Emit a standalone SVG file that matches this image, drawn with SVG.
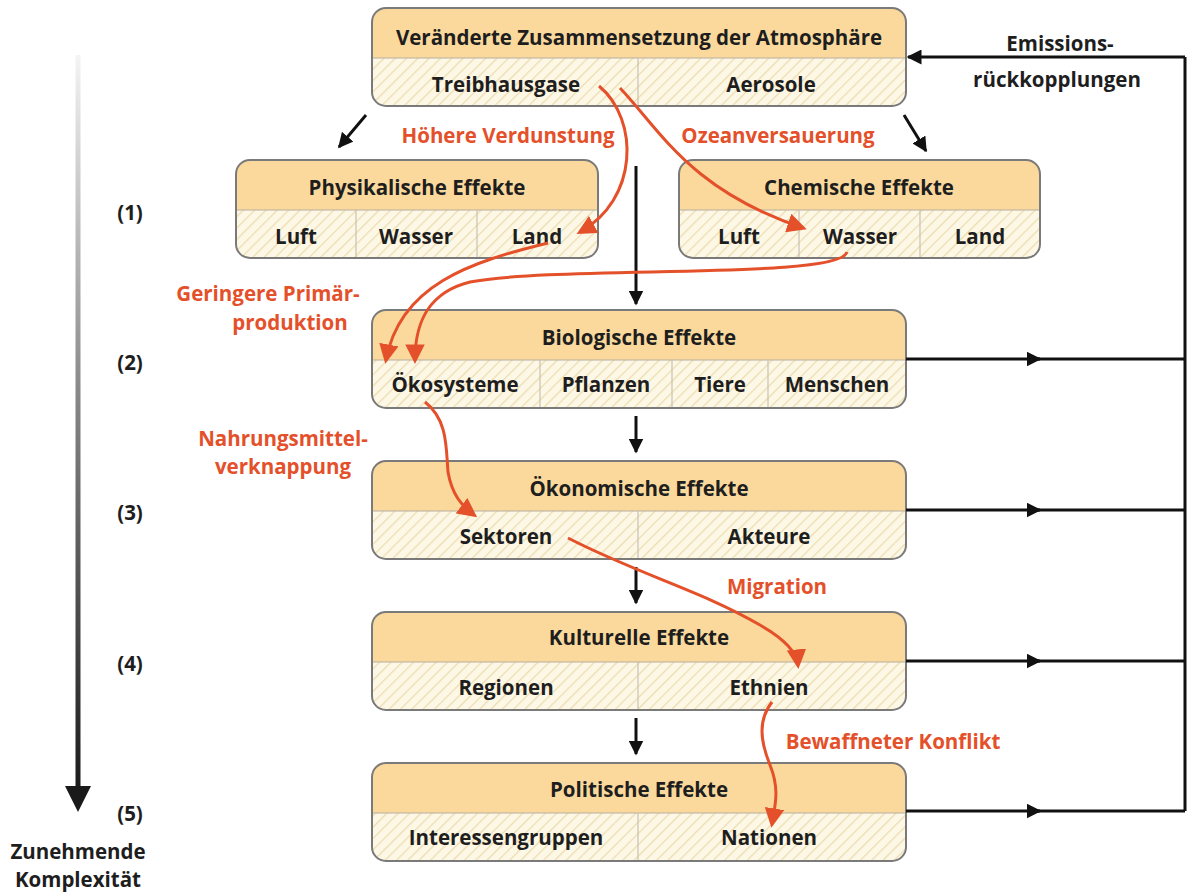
<svg xmlns="http://www.w3.org/2000/svg" width="1189" height="892" viewBox="0 0 1189 892">
<defs>
<pattern id="hatch" patternUnits="userSpaceOnUse" width="8" height="8" patternTransform="rotate(45)">
<rect width="8" height="8" fill="#fdf7e6"/>
<line x1="0" y1="0" x2="0" y2="8" stroke="#ecdcb0" stroke-width="2.5"/>
</pattern>
<linearGradient id="fade" x1="0" y1="55" x2="0" y2="790" gradientUnits="userSpaceOnUse">
<stop offset="0" stop-color="#f4f4f4"/>
<stop offset="0.45" stop-color="#8a8a8a"/>
<stop offset="1" stop-color="#1a1a1a"/>
</linearGradient>
<marker id="ab" viewBox="0 0 10 10" refX="9" refY="5" markerWidth="5" markerHeight="5" markerUnits="strokeWidth" orient="auto">
<path d="M0,0 L10,5 L0,10 Z" fill="#111"/>
</marker>
<marker id="ar" viewBox="0 0 10 10" refX="8" refY="5" markerWidth="6.5" markerHeight="6.5" markerUnits="strokeWidth" orient="auto">
<path d="M0,0 L10,5 L0,10 Z" fill="#e4502a"/>
</marker>
</defs>
<style>
.body{fill:url(#hatch);}
.head{fill:#fbd99c;}
.frame{fill:none;stroke:#7a7a7a;stroke-width:2;}
.sep{stroke:#b8b0a0;stroke-width:1.2;}
.col{stroke:#c9c2b2;stroke-width:1.2;}
.t{font-family:"Open Sans",Lato,"Liberation Sans",sans-serif;font-weight:700;font-size:20.5px;fill:#1e1e1e;text-anchor:middle;}
.r{font-family:"Open Sans",Lato,"Liberation Sans",sans-serif;font-weight:700;font-size:20.5px;fill:#e4502a;text-anchor:middle;}
.blk{stroke:#111;stroke-width:3;fill:none;}
.red{stroke:#e4502a;stroke-width:3;fill:none;}
</style>
<rect width="1189" height="892" fill="#fff"/>

<g id="complexity">
<line x1="78" y1="55" x2="78" y2="790" stroke="url(#fade)" stroke-width="5"/>
<polygon points="65,786 91,786 78,812" fill="#1a1a1a"/>
<text class="t" x="130" y="220">(1)</text>
<text class="t" x="130" y="370">(2)</text>
<text class="t" x="130" y="520">(3)</text>
<text class="t" x="130" y="671">(4)</text>
<text class="t" x="130" y="821">(5)</text>
<text class="t" x="78" y="859">Zunehmende</text>
<text class="t" x="78" y="887">Komplexität</text>
</g>

<g id="atmosphaere">
<rect class="body" x="372" y="8" width="534" height="98" rx="14"/>
<path class="head" d="M372,58 V22 Q372,8 386,8 H892 Q906,8 906,22 V58 Z"/>
<line class="sep" x1="372" y1="58" x2="906" y2="58"/>
<line class="col" x1="638" y1="58" x2="638" y2="106"/>
<rect class="frame" x="372" y="8" width="534" height="98" rx="14"/>
<text class="t" x="639" y="45">Veränderte Zusammensetzung der Atmosphäre</text>
<text class="t" x="506" y="92">Treibhausgase</text>
<text class="t" x="771" y="92">Aerosole</text>
</g>

<g id="physikalisch">
<rect class="body" x="236" y="160" width="362" height="98" rx="14"/>
<path class="head" d="M236,210 V174 Q236,160 250,160 H584 Q598,160 598,174 V210 Z"/>
<line class="sep" x1="236" y1="210" x2="598" y2="210"/>
<line class="col" x1="356" y1="210" x2="356" y2="258"/>
<line class="col" x1="477" y1="210" x2="477" y2="258"/>
<rect class="frame" x="236" y="160" width="362" height="98" rx="14"/>
<text class="t" x="417" y="195">Physikalische Effekte</text>
<text class="t" x="296" y="244">Luft</text>
<text class="t" x="416" y="244">Wasser</text>
<text class="t" x="537" y="244">Land</text>
</g>

<g id="chemisch">
<rect class="body" x="679" y="160" width="361" height="98" rx="14"/>
<path class="head" d="M679,210 V174 Q679,160 693,160 H1026 Q1040,160 1040,174 V210 Z"/>
<line class="sep" x1="679" y1="210" x2="1040" y2="210"/>
<line class="col" x1="799" y1="210" x2="799" y2="258"/>
<line class="col" x1="920" y1="210" x2="920" y2="258"/>
<rect class="frame" x="679" y="160" width="361" height="98" rx="14"/>
<text class="t" x="859" y="195">Chemische Effekte</text>
<text class="t" x="739" y="244">Luft</text>
<text class="t" x="860" y="244">Wasser</text>
<text class="t" x="980" y="244">Land</text>
</g>

<g id="biologisch">
<rect class="body" x="372" y="310" width="534" height="98" rx="14"/>
<path class="head" d="M372,360 V324 Q372,310 386,310 H892 Q906,310 906,324 V360 Z"/>
<line class="sep" x1="372" y1="360" x2="906" y2="360"/>
<line class="col" x1="540" y1="360" x2="540" y2="408"/>
<line class="col" x1="672" y1="360" x2="672" y2="408"/>
<line class="col" x1="768" y1="360" x2="768" y2="408"/>
<rect class="frame" x="372" y="310" width="534" height="98" rx="14"/>
<text class="t" x="639" y="345">Biologische Effekte</text>
<text class="t" x="455" y="392">Ökosysteme</text>
<text class="t" x="606" y="392">Pflanzen</text>
<text class="t" x="720" y="392">Tiere</text>
<text class="t" x="837" y="392">Menschen</text>
</g>

<g id="oekonomisch">
<rect class="body" x="372" y="461" width="534" height="98" rx="14"/>
<path class="head" d="M372,511 V475 Q372,461 386,461 H892 Q906,461 906,475 V511 Z"/>
<line class="sep" x1="372" y1="511" x2="906" y2="511"/>
<line class="col" x1="638" y1="511" x2="638" y2="559"/>
<rect class="frame" x="372" y="461" width="534" height="98" rx="14"/>
<text class="t" x="639" y="496">Ökonomische Effekte</text>
<text class="t" x="506" y="544">Sektoren</text>
<text class="t" x="769" y="544">Akteure</text>
</g>

<g id="kulturell">
<rect class="body" x="372" y="612" width="534" height="98" rx="14"/>
<path class="head" d="M372,662 V626 Q372,612 386,612 H892 Q906,612 906,626 V662 Z"/>
<line class="sep" x1="372" y1="662" x2="906" y2="662"/>
<line class="col" x1="638" y1="662" x2="638" y2="710"/>
<rect class="frame" x="372" y="612" width="534" height="98" rx="14"/>
<text class="t" x="639" y="645">Kulturelle Effekte</text>
<text class="t" x="506" y="695">Regionen</text>
<text class="t" x="769" y="695">Ethnien</text>
</g>

<g id="politisch">
<rect class="body" x="372" y="763" width="534" height="98" rx="14"/>
<path class="head" d="M372,813 V777 Q372,763 386,763 H892 Q906,763 906,777 V813 Z"/>
<line class="sep" x1="372" y1="813" x2="906" y2="813"/>
<line class="col" x1="638" y1="813" x2="638" y2="861"/>
<rect class="frame" x="372" y="763" width="534" height="98" rx="14"/>
<text class="t" x="639" y="797">Politische Effekte</text>
<text class="t" x="506" y="845">Interessengruppen</text>
<text class="t" x="769" y="845">Nationen</text>
</g>

<g id="connectors">
<line class="blk" x1="366" y1="115" x2="339" y2="147" marker-end="url(#ab)"/>
<line class="blk" x1="904" y1="115" x2="926" y2="151" marker-end="url(#ab)"/>
<line class="blk" x1="636" y1="166" x2="636" y2="304" marker-end="url(#ab)"/>
<line class="blk" x1="636" y1="416" x2="636" y2="452" marker-end="url(#ab)"/>
<line class="blk" x1="636" y1="567" x2="636" y2="603" marker-end="url(#ab)"/>
<line class="blk" x1="636" y1="718" x2="636" y2="754" marker-end="url(#ab)"/>
<line class="blk" x1="1185" y1="57" x2="1185" y2="811"/>
<line class="blk" x1="1185" y1="57" x2="908" y2="57" marker-end="url(#ab)"/>
<line class="blk" x1="906" y1="359" x2="1040" y2="359" marker-end="url(#ab)"/>
<line class="blk" x1="1036" y1="359" x2="1185" y2="359"/>
<line class="blk" x1="906" y1="510" x2="1040" y2="510" marker-end="url(#ab)"/>
<line class="blk" x1="1036" y1="510" x2="1185" y2="510"/>
<line class="blk" x1="906" y1="661" x2="1040" y2="661" marker-end="url(#ab)"/>
<line class="blk" x1="1036" y1="661" x2="1185" y2="661"/>
<line class="blk" x1="906" y1="811" x2="1040" y2="811" marker-end="url(#ab)"/>
<line class="blk" x1="1036" y1="811" x2="1185" y2="811"/>

<path class="red" d="M599,86 C640,120 638,200 580,232" marker-end="url(#ar)"/>
<path class="red" d="M620,88 C660,130 690,190 803,228" marker-end="url(#ar)"/>
<path class="red" d="M548,243 C470,262 400,285 386,360" marker-end="url(#ar)"/>
<path class="red" d="M847,252 C840,280 560,265 470,282 C430,292 415,320 415,360" marker-end="url(#ar)"/>
<path class="red" d="M425,402 C448,420 446,448 448,472 C452,495 462,506 474,515" marker-end="url(#ar)"/>
<path class="red" d="M568,538 C640,575 700,590 760,625 C790,642 797,655 798,665" marker-end="url(#ar)"/>
<path class="red" d="M772,702 C758,720 760,740 770,765 C780,790 775,805 772,824" marker-end="url(#ar)"/>

<text class="r" x="508" y="143">Höhere Verdunstung</text>
<text class="r" x="778" y="143">Ozeanversauerung</text>
<text class="r" x="268" y="301">Geringere Primär-</text>
<text class="r" x="290" y="330">produktion</text>
<text class="r" x="283" y="446">Nahrungsmittel-</text>
<text class="r" x="283" y="474">verknappung</text>
<text class="r" x="777" y="594">Migration</text>
<text class="r" x="893" y="749">Bewaffneter Konflikt</text>
<text class="t" x="1060" y="51">Emissions-</text>
<text class="t" x="1057" y="87">rückkopplungen</text>
</g>
</svg>
